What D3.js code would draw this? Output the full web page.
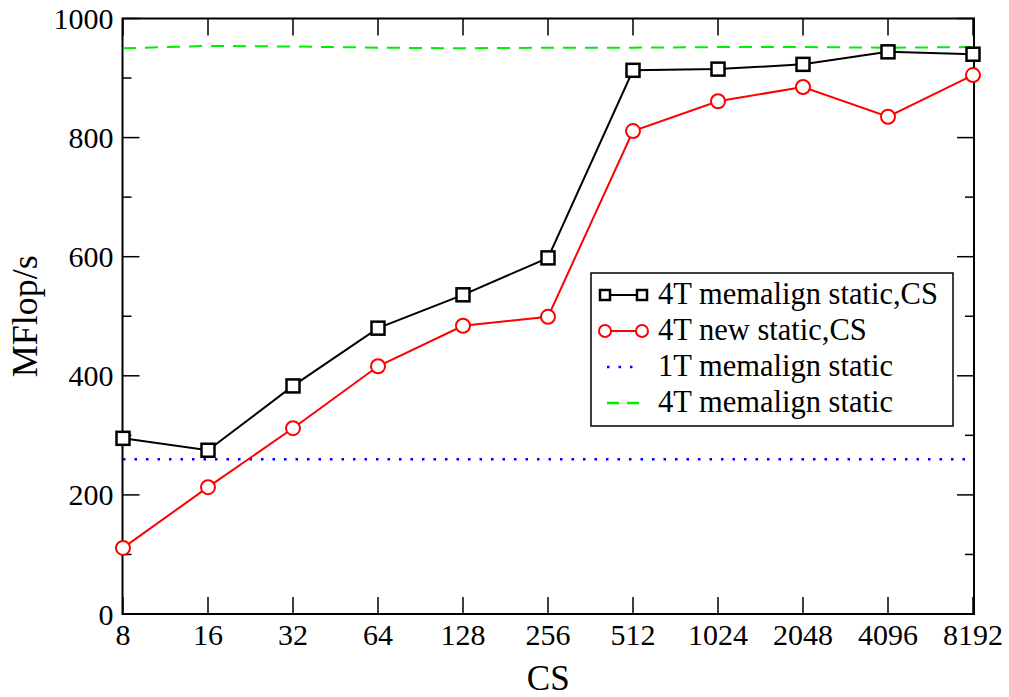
<!DOCTYPE html>
<html>
<head>
<meta charset="utf-8">
<script src="https://cdn.jsdelivr.net/npm/d3@7"></script>
<style>
  body{margin:0;background:#fff;}
  text{font-family:"Liberation Serif","Times New Roman",serif;fill:#000;}
</style>
</head>
<body>
<svg id="chart" width="1009" height="697"></svg>
<script>
var cs = ["8","16","32","64","128","256","512","1024","2048","4096","8192"];
var memalign4CS = [295,275,383,480,536,598,913,915,923,944,940];
var new4CS = [111,213,312,416,484,499,811,861,885,835,905];
var memalign1 = [260,260,260,260,260,260,260,260,260,260,260];
var memalign4 = [950,954,953,951,950,951,951,952,952,951,952];
var yTicks = [0,200,400,600,800,1000];

var L = 122.5, R = 974, T = 18.5, B = 614;
var svg = d3.select('#chart');

var x = d3.scalePoint().domain(cs).range([L+0.5, R-1]);
var y = d3.scaleLinear().domain([0,1000]).range([B, T]);

// frame
svg.append('rect').attr('x',L).attr('y',T).attr('width',R-L).attr('height',B-T)
  .attr('fill','none').attr('stroke','#000').attr('stroke-width',2);

// ticks (inward, all four sides)
var g = svg.append('g').attr('stroke','#000').attr('stroke-width',1.5);
d3.range(0,1001,100).forEach(function(v){
  var len = (v%200==0) ? 17 : 9;
  g.append('line').attr('x1',L).attr('x2',L+len).attr('y1',y(v)).attr('y2',y(v));
  g.append('line').attr('x1',R).attr('x2',R-len).attr('y1',y(v)).attr('y2',y(v));
});
cs.forEach(function(c){
  g.append('line').attr('x1',x(c)).attr('x2',x(c)).attr('y1',B).attr('y2',B-17);
  g.append('line').attr('x1',x(c)).attr('x2',x(c)).attr('y1',T).attr('y2',T+17);
});

// tick labels
svg.selectAll('.yl').data(yTicks).enter().append('text')
  .attr('x',L-9).attr('y',function(d){return y(d)+10.5;})
  .attr('text-anchor','end').attr('font-size',30).text(function(d){return d;});
svg.selectAll('.xl').data(cs).enter().append('text')
  .attr('x',function(d){return x(d);}).attr('y',B+31)
  .attr('text-anchor','middle').attr('font-size',30).text(function(d){return d;});

// axis titles
svg.append('text').attr('x',(L+R)/2).attr('y',690).attr('text-anchor','middle')
  .attr('font-size',35).text('CS');
svg.append('text').attr('transform','translate(37,'+((T+B)/2)+') rotate(-90)')
  .attr('text-anchor','middle').attr('font-size',36).text('MFlop/s');

var line = d3.line().x(function(d,i){return x(cs[i]);}).y(function(d){return y(d);});

svg.append('path').datum(memalign4).attr('d',line).attr('fill','none')
  .attr('stroke','#00ee00').attr('stroke-width',2).attr('stroke-dasharray','13,9');
svg.append('path').datum(memalign1).attr('d',line).attr('fill','none')
  .attr('stroke','#0000ff').attr('stroke-width',2.5).attr('stroke-dasharray','2.5,9');
svg.append('path').datum(new4CS).attr('d',line).attr('fill','none')
  .attr('stroke','#ff0000').attr('stroke-width',2);
svg.append('path').datum(memalign4CS).attr('d',line).attr('fill','none')
  .attr('stroke','#000').attr('stroke-width',2);

svg.selectAll('.c').data(new4CS).enter().append('circle')
  .attr('cx',function(d,i){return x(cs[i]);}).attr('cy',function(d){return y(d);})
  .attr('r',7).attr('fill','#fff').attr('stroke','#ff0000').attr('stroke-width',2);
svg.selectAll('.s').data(memalign4CS).enter().append('rect')
  .attr('x',function(d,i){return x(cs[i])-6.5;}).attr('y',function(d){return y(d)-6.5;})
  .attr('width',13).attr('height',13).attr('fill','#fff').attr('stroke','#000').attr('stroke-width',2.5);

// legend
var lg = svg.append('g');
lg.append('rect').attr('x',591).attr('y',273).attr('width',362).attr('height',153)
  .attr('fill','#fff').attr('stroke','#000').attr('stroke-width',1.5);
var items = [
  {name:'4T memalign static,CS', color:'#000', dash:null, mark:'square'},
  {name:'4T new static,CS', color:'#ff0000', dash:null, mark:'circle'},
  {name:'1T memalign static', color:'#0000ff', dash:'2.5,9', mark:null},
  {name:'4T memalign static', color:'#00ee00', dash:'12,8', mark:null}
];
items.forEach(function(it,i){
  var cy = 295 + i*36;
  var ln = lg.append('line').attr('x1',605).attr('x2',642).attr('y1',cy).attr('y2',cy)
    .attr('stroke',it.color).attr('stroke-width',it.mark ? 2 : 2.5);
  if(it.dash) ln.attr('stroke-dasharray',it.dash).attr('x1',607).attr('x2',640);
  if(it.mark=='square'){
    [605,642].forEach(function(px){
      lg.append('rect').attr('x',px-5).attr('y',cy-5).attr('width',10).attr('height',10)
        .attr('fill','#fff').attr('stroke','#000').attr('stroke-width',2.5);
    });
  }
  if(it.mark=='circle'){
    [605,642].forEach(function(px){
      lg.append('circle').attr('cx',px).attr('cy',cy).attr('r',6)
        .attr('fill','#fff').attr('stroke','#ff0000').attr('stroke-width',2);
    });
  }
  lg.append('text').attr('x',658).attr('y',cy+9).attr('font-size',30.5).text(it.name);
});
</script>
</body>
</html>
